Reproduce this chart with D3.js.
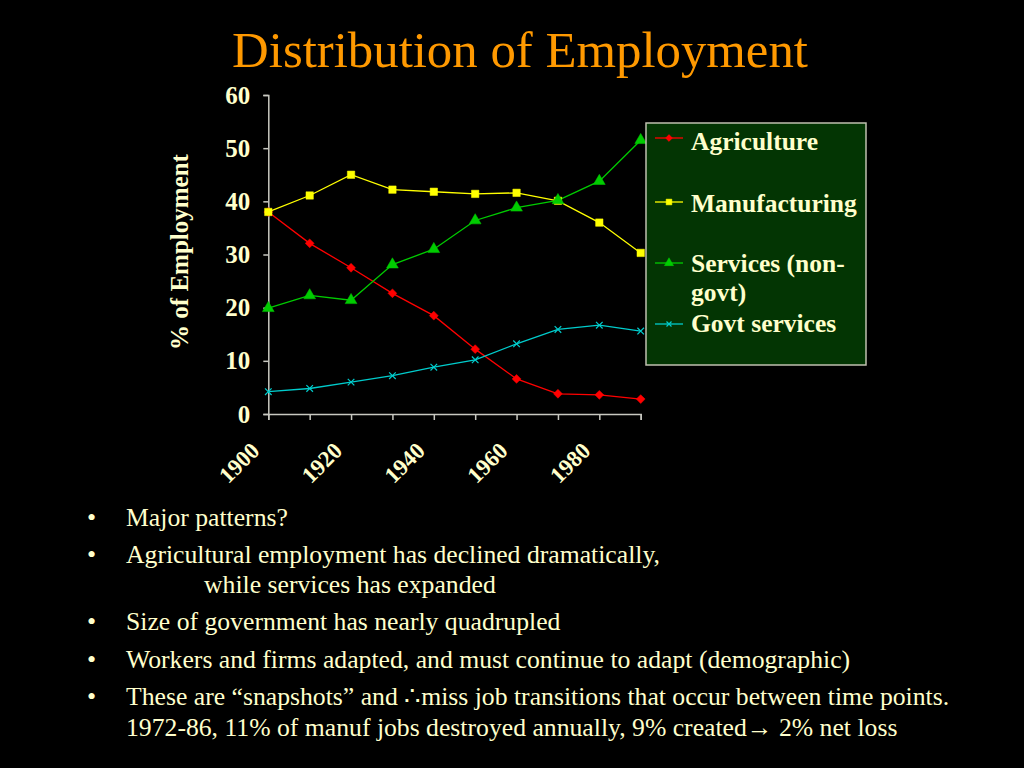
<!DOCTYPE html>
<html><head><meta charset="utf-8">
<script src="https://cdn.jsdelivr.net/npm/d3@7"></script>
<style>
html,body{margin:0;padding:0;background:#000;}
svg{display:block;}
</style></head>
<body>
<svg id="c" width="1024" height="768"></svg>
<script>
const years = [1900,1910,1920,1930,1940,1950,1960,1970,1980,1990];
const xTickLabels = [1900,1920,1940,1960,1980];
const yTicks = [0,10,20,30,40,50,60];
const agriculture = [38.0,32.1,27.5,22.7,18.5,12.2,6.6,3.8,3.6,2.8];
const manufacturing = [38.0,41.1,45.0,42.2,41.8,41.4,41.6,40.1,36.0,30.3];
const services = [19.9,22.3,21.4,28.1,31.0,36.4,38.8,40.2,43.8,51.5];
const govt = [4.2,4.8,6.0,7.2,8.8,10.2,13.2,15.9,16.7,15.6];
const seriesNames = ["Agriculture","Manufacturing","Services (non-\ngovt)","Govt services"];
const titleText = "Distribution of Employment";
const yTitle = "% of Employment";
const bullets = [
  ["Major patterns?"],
  ["Agricultural employment has declined dramatically,", "while services has expanded"],
  ["Size of government has nearly quadrupled"],
  ["Workers and firms adapted, and must continue to adapt (demographic)"],
  ["These are \u201csnapshots\u201d and \u2234miss job transitions that occur between time points.", "1972-86, 11% of manuf jobs destroyed annually, 9% created\u2192 2% net loss"]
];
const bulletIndent = [[0],[0,78],[0],[0],[0,0]];

const cream = "#ffffcc";
const serif = "'Liberation Serif','Times New Roman',serif";
const svg = d3.select("#c");
svg.append("rect").attr("width",1024).attr("height",768).attr("fill","#000");

// Title
const t = svg.append("text").attr("x",520).attr("y",67).attr("text-anchor","middle")
  .attr("fill","#ff9900").style("font-family",serif).style("font-size","44px").text(titleText);
{ const w = t.node().getComputedTextLength(); t.style("font-size",(44*576/w)+"px"); }

const x = d3.scalePoint().domain(years).range([268.3,640.7]);
const y = d3.scaleLinear().domain([0,60]).range([414,95]);

const axisColor = "#c8c8c0";
const gy = svg.append("g").attr("transform","translate(268.3,0)")
  .call(d3.axisLeft(y).tickValues(yTicks).tickSize(5).tickPadding(15));
const gx = svg.append("g").attr("transform","translate(0,414)")
  .call(d3.axisBottom(x).tickSize(6).tickFormat(d => xTickLabels.includes(d) ? d : ""));
[gy,gx].forEach(g=>{
  g.select(".domain").attr("stroke",axisColor).attr("stroke-width",1.5);
  g.selectAll(".tick line").attr("stroke",axisColor).attr("stroke-width",1.5);
  g.selectAll("text").attr("fill",cream).style("font-family",serif).style("font-weight","bold");
});
gy.selectAll(".tick text").attr("x",-18).style("font-size","25px");
gx.selectAll(".tick text").style("font-size","23px").attr("text-anchor","end").attr("dy",null).attr("y",0)
  .attr("transform","translate(-8,38) rotate(-45)");

// Y title
svg.append("text").attr("transform","translate(188,252) rotate(-90)").attr("text-anchor","middle")
  .attr("fill",cream).style("font-family",serif).style("font-weight","bold").style("font-size","25px").text(yTitle);

// series
const diamond = d3.symbolDiamond2 || d3.symbolDiamond;
const series = [
  {v:agriculture, color:"#ff0000", sym:diamond, size:50},
  {v:manufacturing, color:"#ffff00", sym:d3.symbolSquare, size:55},
  {v:services, color:"#00cc00", sym:d3.symbolTriangle, size:60},
  {v:govt, color:"#00cccc", sym:d3.symbolX, size:30}
];
const line = d3.line().x((d,i)=>x(years[i])).y(d=>y(d));
series.forEach(s=>{
  svg.append("path").attr("d",line(s.v)).attr("fill","none").attr("stroke",s.color).attr("stroke-width",1.3);
});
series.forEach(s=>{
  svg.append("g").selectAll("path").data(s.v).join("path")
    .attr("transform",(d,i)=>`translate(${x(years[i])},${y(d)})`)
    .attr("d",d3.symbol().type(s.sym).size(s.size))
    .attr("fill", s.sym===d3.symbolX ? "none" : s.color)
    .attr("stroke", s.color).attr("stroke-width", s.sym===d3.symbolX ? 1.2 : 0.5);
});

// Legend
svg.append("rect").attr("x",646).attr("y",123).attr("width",220).attr("height",242)
  .attr("fill","#033503").attr("stroke","#c0c0b0").attr("stroke-width",1.5);
const legY = [138,202,263,324];
const legTextY = [[150],[212],[272,301],[332]];
series.forEach((s,i)=>{
  svg.append("line").attr("x1",655).attr("x2",683).attr("y1",legY[i]).attr("y2",legY[i]).attr("stroke",s.color).attr("stroke-width",1.3);
  svg.append("path").attr("transform",`translate(669,${legY[i]})`)
    .attr("d",d3.symbol().type(s.sym).size(s.size*0.6))
    .attr("fill", s.sym===d3.symbolX ? "none" : s.color).attr("stroke",s.color).attr("stroke-width",s.sym===d3.symbolX?1.2:0.5);
  seriesNames[i].split("\n").forEach((ln,j)=>{
    svg.append("text").attr("x",691).attr("y",legTextY[i][j]).attr("fill",cream)
      .style("font-family",serif).style("font-weight","bold").style("font-size","25.5px").text(ln);
  });
});

// Bullets
const lineYs = [[525.5],[562.5,592.5],[629.5],[667.5],[704.5,735.5]];
bullets.forEach((b,i)=>{
  svg.append("text").attr("x",87).attr("y",lineYs[i][0]).attr("fill",cream)
    .style("font-family",serif).style("font-size","26px").text("\u2022");
  b.forEach((ln,j)=>{
    svg.append("text").attr("x", 126 + bulletIndent[i][j]).attr("y",lineYs[i][j]).attr("fill",cream)
      .style("font-family",serif).style("font-size","25.7px").text(ln);
  });
});
</script>
</body></html>
